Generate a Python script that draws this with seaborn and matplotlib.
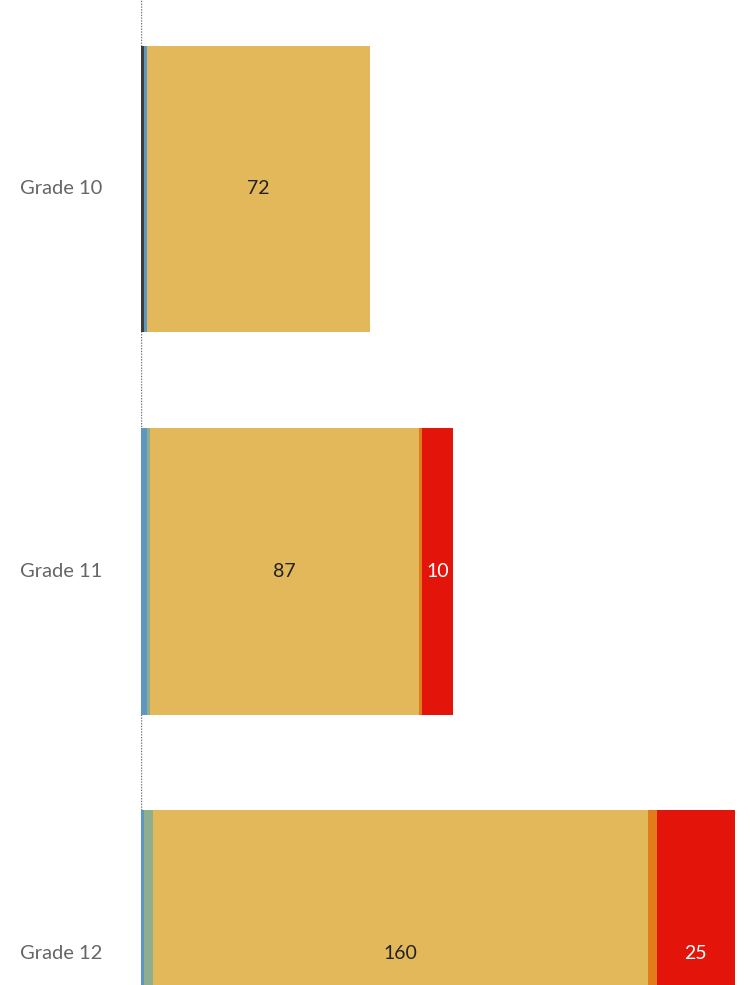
import pandas as pd
import matplotlib
matplotlib.use('Agg')
import matplotlib.pyplot as plt
import matplotlib.transforms as mtransforms
import seaborn as sns

# Data
grades = ["Grade 10", "Grade 11", "Grade 12"]
series_names = ["Level 1", "Level 2", "Level 3", "Level 4", "Level 5", "Level 6"]
level_1 = [1, 0, 0]
level_2 = [1, 2, 1]
level_3 = [0, 1, 3]
level_4 = [72, 87, 160]
level_5 = [0, 1, 3]
level_6 = [0, 10, 25]

colors = ["#3d3d3d", "#5e97c2", "#8fae8e", "#e3b85a", "#e27c1a", "#e3150a"]
label_colors = ["white", "white", "#222222", "#222222", "white", "white"]

df = pd.DataFrame({
    "grade": grades,
    "Level 1": level_1,
    "Level 2": level_2,
    "Level 3": level_3,
    "Level 4": level_4,
    "Level 5": level_5,
    "Level 6": level_6,
})

# cumulative totals for stacking
cum = df[series_names].cumsum(axis=1)

sns.set_theme(style="white")
plt.rcParams['font.family'] = ['Lato', 'DejaVu Sans']

fig = plt.figure(figsize=(7.5, 9.85), dpi=100)
ax = fig.add_axes([141 / 750, 0, 1 - 141 / 750, 1])

# draw from the outermost cumulative total inward so each segment shows
for i in range(len(series_names) - 1, -1, -1):
    sns.barplot(x=cum[series_names[i]], y=df["grade"], orient="h",
                color=colors[i], width=0.75, saturation=1,
                linewidth=0, ax=ax)

# segment labels
for i, name in enumerate(series_names):
    starts = cum[name] - df[name]
    for j in range(len(grades)):
        v = df[name][j]
        if v >= 5:
            ax.text(starts[j] + v / 2, j, str(v), ha="center", va="center",
                    fontsize=14, color=label_colors[i])

# category labels at left edge of figure
trans = mtransforms.blended_transform_factory(fig.transFigure, ax.transData)
for j, g in enumerate(grades):
    ax.text(20 / 750, j, g, transform=trans, ha="left", va="center",
            fontsize=14.5, color="#666666")

ax.axvline(0, color="#777777", linestyle=(0, (1, 1)), linewidth=1, zorder=0)

ax.set_xlim(0, 197)
ax.set_ylim(2.082, -0.494)
ax.set_xlabel("")
ax.set_ylabel("")
ax.set_xticks([])
ax.set_yticks([])
for s in ax.spines.values():
    s.set_visible(False)

fig.savefig("out.png", dpi=100)
